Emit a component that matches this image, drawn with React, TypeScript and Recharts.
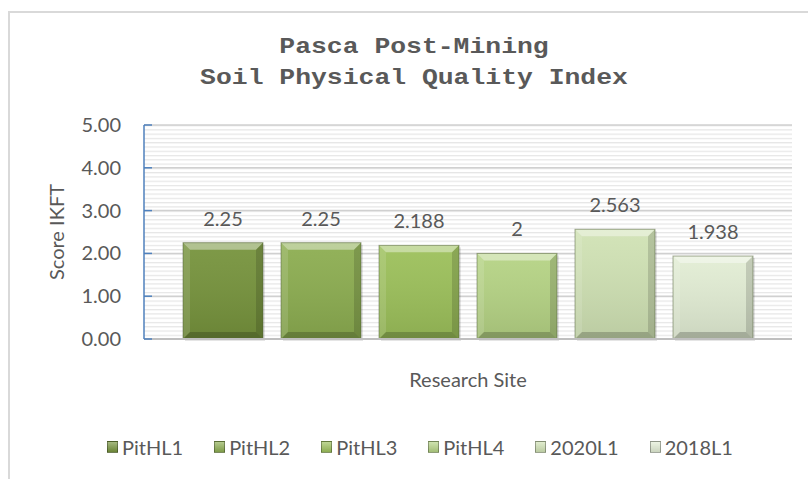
import React from 'react';
import { BarChart, Bar, XAxis, YAxis, CartesianGrid, LabelList, Legend, Label } from 'recharts';

const categories = [''];
const seriesNames = ['PitHL1', 'PitHL2', 'PitHL3', 'PitHL4', '2020L1', '2018L1'];
const seriesValues = [2.25, 2.25, 2.188, 2, 2.563, 1.938];
const seriesColors = ['#76933c', '#8cad50', '#9cc05a', '#b5d384', '#d0e2b4', '#e2edd4'];
const yTicks = [0, 1, 2, 3, 4, 5];
const titleLines = ['Pasca Post-Mining', 'Soil Physical Quality Index'];
const xTitle = 'Research Site';
const yTitle = 'Score IKFT';

const data = categories.map((c) => {
  const row: any = { name: c };
  seriesNames.forEach((s, i) => {
    row[s] = seriesValues[i];
  });
  return row;
});

const TEXT = '#595959';
const FONT = 'Lato, Carlito, Calibri, sans-serif';

const BevelBar = (props: any) => {
  const { x, y, width, height, fill } = props;
  if (!height || height <= 0) return null;
  const b = Math.min(7, width / 4, height / 4);
  const x2 = x + width;
  const y2 = y + height;
  return (
    <g>
      <rect x={x + 2} y={y + 2} width={width} height={height} fill="#000" opacity={0.1} />
      <rect x={x} y={y} width={width} height={height} fill={fill} />
      <rect x={x} y={y} width={width} height={height} fill="url(#barShade)" />
      <polygon points={`${x},${y} ${x2},${y} ${x2 - b},${y + b} ${x + b},${y + b}`} fill="#fff" opacity={0.4} />
      <polygon points={`${x},${y} ${x + b},${y + b} ${x + b},${y2 - b} ${x},${y2}`} fill="#fff" opacity={0.12} />
      <polygon points={`${x2},${y} ${x2},${y2} ${x2 - b},${y2 - b} ${x2 - b},${y + b}`} fill="#000" opacity={0.14} />
      <polygon points={`${x},${y2} ${x2},${y2} ${x2 - b},${y2 - b} ${x + b},${y2 - b}`} fill="#000" opacity={0.2} />
      <rect x={x} y={y} width={width} height={height} fill="none" stroke="#4d5c33" strokeOpacity={0.5} strokeWidth={1} />
    </g>
  );
};

const YTick = (props: any) => {
  const { x, y, payload } = props;
  const ax = x + 23;
  return (
    <g>
      <line x1={ax} x2={ax + 8} y1={y} y2={y} stroke="#4f81bd" strokeWidth={1.5} />
      <text x={x} y={y} dy={7} textAnchor="end" fill={TEXT} fontSize={20} fontFamily={FONT}>
        {Number(payload.value).toFixed(2)}
      </text>
    </g>
  );
};

const LegendContent = (props: any) => {
  const { payload } = props;
  const items = [...(payload || [])].sort(
    (a: any, b: any) => seriesNames.indexOf(a.value) - seriesNames.indexOf(b.value)
  );
  return (
    <div
      style={{
        display: 'flex',
        justifyContent: 'center',
        gap: 31,
        paddingLeft: 24,
        fontFamily: FONT,
        fontSize: 20,
        color: TEXT,
        lineHeight: '24px',
      }}
    >
      {items.map((p: any) => (
        <div key={p.value} style={{ display: 'flex', alignItems: 'center' }}>
          <span
            style={{
              display: 'inline-block',
              width: 11,
              height: 12,
              background: `linear-gradient(to bottom, rgba(255,255,255,0.35), rgba(0,0,0,0.1)), ${p.color}`,
              marginRight: 4,
              border: '1px solid rgba(0,0,0,0.3)',
              boxSizing: 'border-box',
            }}
          />
          {p.value}
        </div>
      ))}
    </div>
  );
};

export default function App() {
  return (
    <div style={{ position: 'absolute', left: 8, top: 8, width: 800, height: 471, overflow: 'hidden', background: '#fff' }}>
      <svg width={0} height={0} style={{ position: 'absolute' }}>
        <defs>
          <linearGradient id="barShade" x1="0" y1="0" x2="0" y2="1">
            <stop offset="0%" stopColor="#fff" stopOpacity={0.06} />
            <stop offset="100%" stopColor="#000" stopOpacity={0.1} />
          </linearGradient>
          <pattern id="stripes" patternUnits="userSpaceOnUse" width={8} height={4.28} y={117}>
            <rect width={8} height={4.28} fill="#fff" />
            <rect width={8} height={1.2} fill="#e6e6e6" />
          </pattern>
        </defs>
      </svg>
      <div
        style={{
          position: 'absolute',
          left: 0,
          top: 3,
          width: 830,
          height: 500,
          border: '2px solid #d9d9d9',
          boxSizing: 'border-box',
        }}
      />
      <div
        style={{
          position: 'absolute',
          left: 0,
          top: 24,
          width: 812,
          textAlign: 'center',
          fontFamily: '"Liberation Mono", "Courier New", monospace',
          fontWeight: 'bold',
          fontSize: 22,
          lineHeight: '31px',
          color: TEXT,
          transform: 'scaleX(1.2)',
          whiteSpace: 'nowrap',
        }}
      >
        {titleLines.map((t) => (
          <div key={t}>{t}</div>
        ))}
      </div>
      <div style={{ position: 'absolute', left: 0, top: 0 }}>
        <BarChart
          width={800}
          height={471}
          data={data}
          margin={{ top: 117, right: 16, left: 20, bottom: 92 }}
          barSize={80}
          barGap={18}
        >
          <CartesianGrid vertical={false} stroke="#d0d0d0" strokeWidth={1.5} fill="url(#stripes)" fillOpacity={1} />
          <XAxis
            dataKey="name"
            tick={false}
            tickLine={false}
            axisLine={{ stroke: '#bfbfbf', strokeWidth: 2 }}
            height={48}
          >
            <Label value={xTitle} position="insideBottom" offset={0} fill={TEXT} fontSize={20} fontFamily={FONT} />
          </XAxis>
          <YAxis
            domain={[0, 5]}
            ticks={yTicks}
            interval={0}
            width={116}
            tickSize={0}
            tickMargin={23}
            tickLine={false}
            axisLine={{ stroke: '#4f81bd', strokeWidth: 1.5 }}
            tick={<YTick />}
          >
            <Label
              value={yTitle}
              angle={-90}
              position="insideLeft"
              offset={29}
              fill={TEXT}
              fontSize={20}
              fontFamily={FONT}
              style={{ textAnchor: 'middle' }}
            />
          </YAxis>
          <Legend
            layout="horizontal"
            verticalAlign="middle"
            align="center"
            content={<LegendContent />}
            wrapperStyle={{ top: 427, left: 0, width: 800 }}
          />
          {seriesNames.map((s, i) => (
            <Bar key={s} dataKey={s} name={s} fill={seriesColors[i]} shape={<BevelBar />} isAnimationActive={false}>
              <LabelList dataKey={s} position="top" offset={17} fill={TEXT} fontSize={20} fontFamily={FONT} />
            </Bar>
          ))}
        </BarChart>
      </div>
    </div>
  );
}
